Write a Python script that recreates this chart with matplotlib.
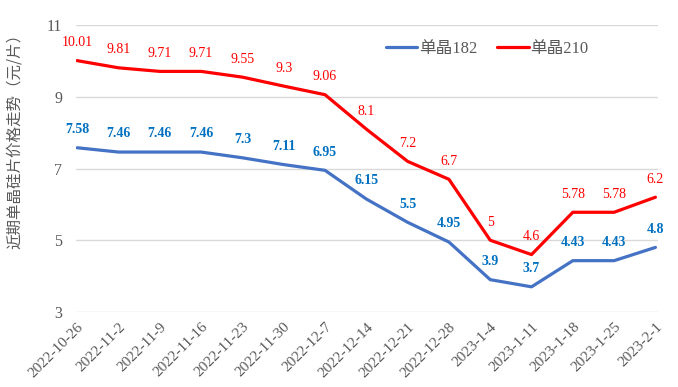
import matplotlib
matplotlib.use("Agg")
import matplotlib.pyplot as plt

dates = ["2022-10-26", "2022-11-2", "2022-11-9", "2022-11-16", "2022-11-23",
         "2022-11-30", "2022-12-7", "2022-12-14", "2022-12-21", "2022-12-28",
         "2023-1-4", "2023-1-11", "2023-1-18", "2023-1-25", "2023-2-1"]
mono182 = [7.58, 7.46, 7.46, 7.46, 7.3, 7.11, 6.95, 6.15, 5.5, 4.95,
           3.9, 3.7, 4.43, 4.43, 4.8]
mono210 = [10.01, 9.81, 9.71, 9.71, 9.55, 9.3, 9.06, 8.1, 7.2, 6.7,
           5, 4.6, 5.78, 5.78, 6.2]
y_ticks = [3, 5, 7, 9, 11]

SERIF = ["Liberation Serif", "Noto Sans CJK SC"]
CJK = ["Noto Sans CJK SC", "DejaVu Sans"]
GREY = "#595959"

fig = plt.figure(figsize=(6.78, 3.87), dpi=100)
ax = fig.add_axes([0.112, 0.194, 0.859, 0.741])

x = list(range(len(dates)))
ax.plot(x, mono182, color="#4472C4", lw=2.3, label="单晶182", solid_capstyle="round")
ax.plot(x, mono210, color="#FF0000", lw=2.3, label="单晶210", solid_capstyle="round")

# data labels above each point
for i, v in enumerate(mono182):
    ax.annotate(f"{v:g}", (i, v), xytext=(0, 13), textcoords="offset points",
                ha="center", va="center", color="#0070C0", fontsize=10,
                fontweight="bold", family=SERIF)
for i, v in enumerate(mono210):
    ax.annotate(f"{v:g}", (i, v), xytext=(0, 13), textcoords="offset points",
                ha="center", va="center", color="#FF0000", fontsize=10,
                family=SERIF)

ax.set_ylim(3, 11)
ax.set_xlim(-0.03, 14.07)
ax.set_yticks(y_ticks)
ax.set_yticklabels([str(t) for t in y_ticks], family=SERIF, fontsize=11.5, color=GREY)
ax.set_xticks(x)
ax.set_xticklabels(dates, rotation=45, ha="right", rotation_mode="anchor",
                   family=SERIF, fontsize=11, color=GREY)
ax.tick_params(axis="both", length=0, pad=6)
ax.tick_params(axis="y", pad=10)
ax.grid(axis="y", color="#D9D9D9", lw=1)
ax.set_axisbelow(True)
for s in ax.spines.values():
    s.set_visible(False)

ax.set_ylabel("近期单晶硅片价格走势（元/片）", family=CJK, fontsize=11.2, color=GREY)
ax.yaxis.set_label_coords(-0.091, 0.61)

leg = ax.legend(loc="center", bbox_to_anchor=(0.706, 0.916), ncol=2, frameon=False,
                handlelength=1.9, columnspacing=1.2, handletextpad=0.1,
                prop={"family": SERIF, "size": 12})
for t in leg.get_texts():
    t.set_color(GREY)

fig.savefig("out.png", dpi=100)
